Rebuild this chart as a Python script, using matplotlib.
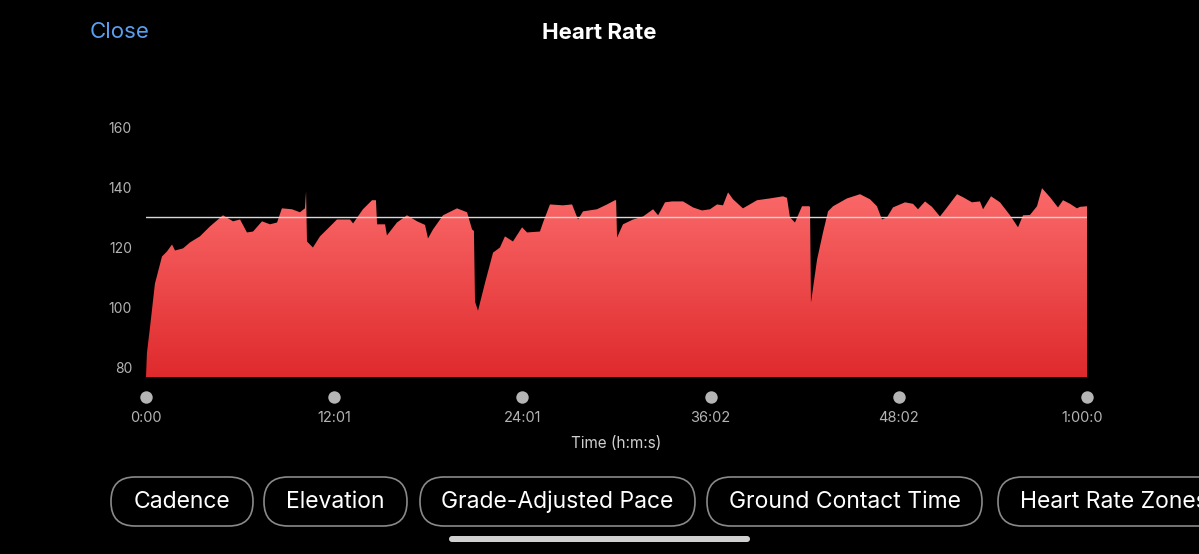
import numpy as np
import matplotlib.pyplot as plt
from matplotlib.colors import LinearSegmentedColormap
from matplotlib.patches import FancyBboxPatch
from matplotlib.transforms import Bbox, TransformedBbox

plt.rcParams['font.family'] = ['Inter', 'DejaVu Sans']

# Datos de frecuencia cardiaca (minutos, ppm)
time_min = [0.00, 0.06, 0.26, 0.57, 1.02, 1.34, 1.66, 1.85, 2.36, 2.81, 3.44, 4.08,
            4.91, 5.55, 6.00, 6.44, 6.83, 7.40, 7.91, 8.36, 8.67, 9.31, 9.82, 10.14,
            10.21, 10.27, 10.65, 11.10, 11.74, 12.18, 13.01, 13.21, 13.84, 14.42, 14.67,
            14.74, 15.25, 15.37, 16.01, 16.65, 17.29, 17.80, 17.99, 18.31, 18.95, 19.84,
            20.48, 20.80, 20.92, 20.99, 21.18, 21.63, 22.14, 22.58, 22.90, 23.41, 23.99,
            24.31, 25.13, 25.33, 25.77, 26.60, 27.18, 27.56, 27.88, 28.77, 29.41, 29.92,
            29.99, 30.05, 30.43, 31.07, 31.71, 32.35, 32.67, 33.11, 33.56, 34.26, 34.90,
            35.47, 35.98, 36.43, 36.81, 37.13, 37.45, 38.08, 38.98, 39.81, 40.64, 40.89,
            41.08, 41.40, 41.85, 42.29, 42.36, 42.42, 42.81, 43.19, 43.51, 43.83, 44.72,
            45.55, 46.19, 46.63, 46.95, 47.27, 47.65, 48.42, 48.93, 49.25, 49.70, 49.89,
            50.14, 50.65, 51.10, 51.74, 52.12, 52.69, 53.20, 53.40, 53.91, 54.48, 55.12,
            55.63, 55.95, 56.39, 56.84, 57.16, 57.67, 58.18, 58.50, 58.95, 59.39, 59.58,
            60.03]
heart_rate = [77, 85, 93.7, 108, 117, 118.7, 121, 119, 119.7, 121.7, 123.7, 127,
              130.7, 128.7, 129.3, 125, 125.3, 128.7, 127.7, 128.3, 133, 132.7, 131.7, 133,
              138.7, 122, 120, 123.7, 127, 129.3, 129.3, 128, 132.7, 135.7, 135.7,
              127.7, 127.7, 124, 128.3, 130.7, 128.7, 127.5, 123, 126, 130.7, 133,
              131.7, 126, 125.5, 102, 99, 108.3, 118.3, 120, 123.7, 122, 126.7,
              125, 125.3, 128.3, 134.3, 134, 134.3, 129.3, 132, 132.7, 134.3, 135.7,
              135.7, 123.3, 127.7, 129.3, 130.3, 132.7, 130.7, 135, 135.3, 135.3, 133.3,
              132.3, 132.7, 134.3, 134, 138.3, 136, 133, 135.7, 136.3, 137, 136.5,
              130, 128.3, 133.7, 133.7, 133.5, 101.7, 116, 125, 132, 133.7, 136.3,
              137.7, 136, 133.7, 129.3, 130, 133.3, 135, 134.5, 132.7, 135.3, 134.5,
              133.5, 130.3, 133.3, 137.7, 136.7, 135, 135.3, 132.7, 137, 135, 130.7,
              126.7, 130.7, 130.8, 133.7, 139.7, 136.7, 133.3, 135.7, 134.5, 133, 133.5,
              133.7]
avg_hr = 130
y_ticks = [80, 100, 120, 140, 160]
x_tick_labels = ['0:00', '12:01', '24:01', '36:02', '48:02', '1:00:02']
buttons = ['Cadence', 'Elevation', 'Grade-Adjusted Pace', 'Ground Contact Time', 'Heart Rate Zones']

W, H = 1199, 554
fig = plt.figure(figsize=(W / 100, H / 100), dpi=100, facecolor='black')

# Ejes del grafico (en pixeles: x 146-1087, y 121-377)
ax = fig.add_axes([146 / W, 1 - 377 / H, 941 / W, 256 / H])
ax.set_facecolor('black')
total = time_min[-1]
ymin, ymax = 77, 162
ax.set_xlim(0, total)
ax.set_ylim(ymin, ymax)

# Relleno con degradado recortado por el area
poly = ax.fill_between(time_min, heart_rate, ymin, color='none', lw=0)
cmap = LinearSegmentedColormap.from_list('hr', ['#df2a2d', '#fb6a6a'])
grad = np.linspace(0, 1, 256).reshape(-1, 1)
im = ax.imshow(grad, extent=[0, total, ymin, 140], origin='lower', aspect='auto',
               cmap=cmap, zorder=2)
im.set_clip_path(poly.get_paths()[0], transform=ax.transData)
ax.set_xlim(0, total)
ax.set_ylim(ymin, ymax)

ax.axhline(avg_hr, color='#d8d8d8', lw=1, zorder=3)

for s in ax.spines.values():
    s.set_visible(False)
ax.set_xticks([])
ax.set_yticks(y_ticks)
ax.tick_params(axis='y', length=0, pad=10, labelsize=10, labelcolor='#b3b3b3')

# Capa para la interfaz (coordenadas en pixeles)
ui = fig.add_axes([0, 0, 1, 1], facecolor='none')
ui.set_xlim(0, W)
ui.set_ylim(H, 0)
ui.axis('off')

ui.text(90, 32, 'Close', color='#5a9ff0', fontsize=16, ha='left', va='center')
ui.text(599, 33, 'Heart Rate', color='white', fontsize=16, fontweight='bold',
        ha='center', va='center')

tick_pos = np.linspace(0, total, len(x_tick_labels))
clip_box = TransformedBbox(Bbox([[0, 0], [1103, H]]), ui.transData)
for tp, lab in zip(tick_pos, x_tick_labels):
    px = 146 + tp / total * 941
    ui.scatter([px], [397], s=80, color='#b5b5b5', lw=0)
    t = ui.text(px, 418, lab, color='#b3b3b3', fontsize=10.5, ha='center', va='center')
    t.set_clip_box(clip_box)
    t.set_clip_on(True)
ui.text(616, 444, 'Time (h:m:s)', color='#cfcfcf', fontsize=11, ha='center', va='center')

# Botones
btn_x = [(111, 253), (264, 407), (420, 695), (707, 982), (998, 1240)]
for (x0, x1), lab in zip(btn_x, buttons):
    ui.add_patch(FancyBboxPatch((x0, 477), x1 - x0, 49,
                                boxstyle='round,pad=0,rounding_size=24',
                                fc='none', ec='#8a8a8a', lw=1.2))
    last = x1 > W
    ui.text(x0 + 22 if last else (x0 + x1) / 2, 502, lab, color='white', fontsize=16.5,
            ha='left' if last else 'center', va='center')

ui.add_patch(FancyBboxPatch((449, 536), 301, 6, boxstyle='round,pad=0,rounding_size=3',
                            fc='#d0d0d0', ec='none'))

fig.savefig('out.png', dpi=100, facecolor='black')
